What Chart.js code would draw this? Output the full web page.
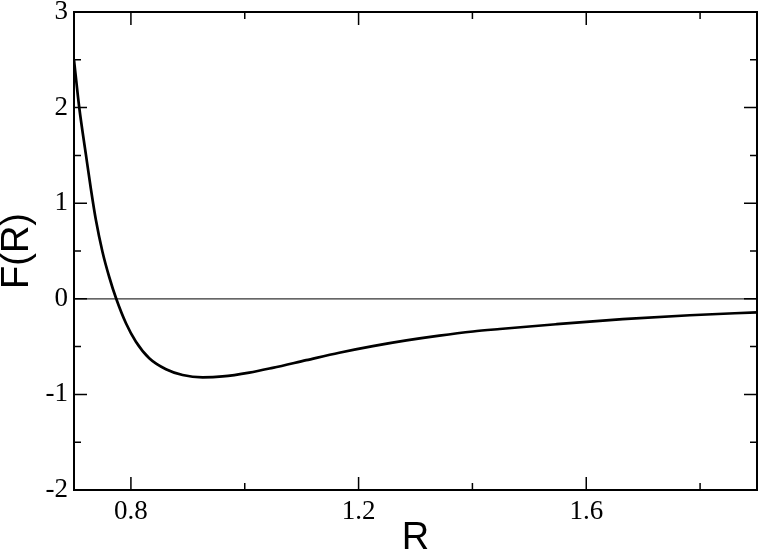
<!DOCTYPE html>
<html>
<head>
<meta charset="utf-8">
<script src="https://cdn.jsdelivr.net/npm/chart.js@4.4.1/dist/chart.umd.min.js"></script>
<style>
  html, body { margin: 0; padding: 0; background: #fff; }
  #c { display: block; }
</style>
</head>
<body>
<canvas id="c" width="760" height="554"></canvas>
<script>
// Data
const rValues = [0.700, 0.7091, 0.7209, 0.7297, 0.7385, 0.7501, 0.7619, 0.7742, 0.7913, 0.8088, 0.8322, 0.8616, 0.8908, 0.926, 0.961, 1.008, 1.049, 1.108, 1.166, 1.225, 1.284, 1.342, 1.401, 1.448, 1.547, 1.664, 1.782, 1.900];
const fValues = [2.50, 2.006, 1.509, 1.149, 0.824, 0.490, 0.228, 0.0, -0.256, -0.449, -0.622, -0.737, -0.797, -0.821, -0.812, -0.772, -0.722, -0.642, -0.564, -0.495, -0.435, -0.385, -0.342, -0.316, -0.266, -0.213, -0.172, -0.141];
const xTickLabels = [0.8, 1.2, 1.6];
const xMinorTicks = [1.0, 1.4, 1.8];
const yTickLabels = [-2, -1, 0, 1, 2, 3];
const yMinorTicks = [-1.5, -0.5, 0.5, 1.5, 2.5];
const xTitle = 'R';
const yTitle = 'F(R)';

const points = rValues.map((r, i) => ({ x: r, y: fValues[i] }));

const framePlugin = {
  id: 'frame',
  afterDraw(chart) {
    const { ctx, chartArea: a, scales } = chart;
    const xs = scales.x, ys = scales.y;
    ctx.save();
    ctx.strokeStyle = '#000';
    ctx.lineWidth = 2;
    ctx.strokeRect(a.left, a.top, a.right - a.left, a.bottom - a.top);
    ctx.lineWidth = 1.5;
    ctx.beginPath();
    const major = 13, minor = 7;
    xTickLabels.forEach(v => {
      const px = xs.getPixelForValue(v);
      ctx.moveTo(px, a.bottom); ctx.lineTo(px, a.bottom - major);
      ctx.moveTo(px, a.top); ctx.lineTo(px, a.top + major);
    });
    xMinorTicks.forEach(v => {
      const px = xs.getPixelForValue(v);
      ctx.moveTo(px, a.bottom); ctx.lineTo(px, a.bottom - minor);
      ctx.moveTo(px, a.top); ctx.lineTo(px, a.top + minor);
    });
    yTickLabels.forEach(v => {
      const py = ys.getPixelForValue(v);
      ctx.moveTo(a.left, py); ctx.lineTo(a.left + major, py);
      ctx.moveTo(a.right, py); ctx.lineTo(a.right - major, py);
    });
    yMinorTicks.forEach(v => {
      const py = ys.getPixelForValue(v);
      ctx.moveTo(a.left, py); ctx.lineTo(a.left + minor, py);
      ctx.moveTo(a.right, py); ctx.lineTo(a.right - minor, py);
    });
    ctx.stroke();
    ctx.restore();
  },
  beforeDatasetsDraw(chart) {
    const { ctx, chartArea: a, scales } = chart;
    const py = scales.y.getPixelForValue(0);
    ctx.save();
    ctx.strokeStyle = '#333';
    ctx.lineWidth = 1.3;
    ctx.beginPath();
    ctx.moveTo(a.left, py); ctx.lineTo(a.right, py);
    ctx.stroke();
    ctx.restore();
  }
};

new Chart(document.getElementById('c'), {
  type: 'scatter',
  data: {
    datasets: [{
      data: points,
      showLine: true,
      borderColor: '#000',
      borderWidth: 2.7,
      pointRadius: 0,
      cubicInterpolationMode: 'monotone',
      fill: false
    }]
  },
  options: {
    responsive: false,
    devicePixelRatio: 1,
    animation: false,
    plugins: { legend: { display: false }, tooltip: { enabled: false } },
    layout: { padding: { top: 12, right: 3, left: 0, bottom: 0 } },
    scales: {
      x: {
        type: 'linear',
        min: 0.7, max: 1.9,
        grid: { display: false, drawTicks: false },
        border: { display: false },
        afterBuildTicks: s => { s.ticks = xTickLabels.map(v => ({ value: v })); },
        afterFit: s => { s.height = 64; s.paddingLeft = 0; s.paddingRight = 0; },
        ticks: {
          color: '#000',
          padding: 6,
          maxRotation: 0,
          font: { family: '"Liberation Serif", "Times New Roman", serif', size: 27 },
          callback: v => v.toFixed(1)
        },
        title: {
          display: true, text: xTitle, color: '#000',
          font: { family: '"Liberation Sans", Arial, sans-serif', size: 38, lineHeight: 0.8 },
          padding: { top: 0, bottom: 0 }
        }
      },
      y: {
        type: 'linear',
        min: -2, max: 3,
        grid: { display: false, drawTicks: false },
        border: { display: false },
        afterBuildTicks: s => { s.ticks = yTickLabels.map(v => ({ value: v })); },
        afterFit: s => { s.width = 74; s.paddingTop = 0; s.paddingBottom = 0; },
        ticks: {
          color: '#000',
          padding: 6,
          font: { family: '"Liberation Serif", "Times New Roman", serif', size: 27 },
          callback: v => String(v)
        },
        title: {
          display: true, text: yTitle, color: '#000',
          font: { family: '"Liberation Sans", Arial, sans-serif', size: 38, lineHeight: 0.9 },
          padding: { top: 0, bottom: 0 }
        }
      }
    }
  },
  plugins: [framePlugin]
});
</script>
</body>
</html>
